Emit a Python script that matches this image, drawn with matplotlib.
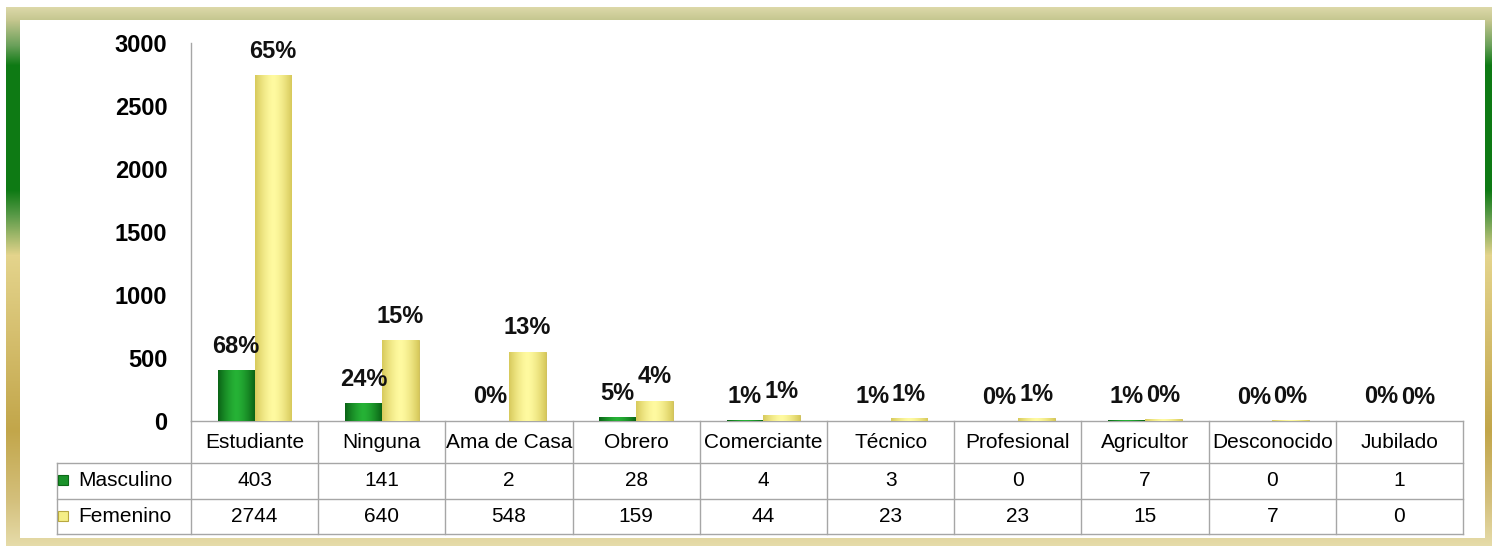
import numpy as np
import matplotlib
matplotlib.use("Agg")
import matplotlib.pyplot as plt
from matplotlib.colors import to_rgb

plt.rcParams['font.family'] = ['Liberation Sans', 'DejaVu Sans']

categories = ['Estudiante', 'Ninguna', 'Ama de Casa', 'Obrero', 'Comerciante',
              'Técnico', 'Profesional', 'Agricultor', 'Desconocido', 'Jubilado']
masculino = [403, 141, 2, 28, 4, 3, 0, 7, 0, 1]
femenino = [2744, 640, 548, 159, 44, 23, 23, 15, 7, 0]
masc_pct = ['68%', '24%', '0%', '5%', '1%', '1%', '0%', '1%', '0%', '0%']
fem_pct = ['65%', '15%', '13%', '4%', '1%', '1%', '1%', '0%', '0%', '0%']
yticks = [0, 500, 1000, 1500, 2000, 2500, 3000]
series_names = ['Masculino', 'Femenino']

W, H = 1493, 546
GREEN = '#1a922a'
YELLOW = '#f5ee86'
GRID = '#a6a6a6'


def frame_image():
    # green / gold gradient frame around a white panel
    stops = [(7, '#dcd8a8'), (20, '#c4c68e'), (45, '#6aa05a'), (65, '#0e7a14'),
             (190, '#0e7a14'), (215, '#5a9a48'), (255, '#e4d48c'), (330, '#d6c070'),
             (430, '#c2a64a'), (500, '#d4c07c'), (546, '#e6dcaa')]
    ys = np.arange(H)
    sy = [s[0] for s in stops]
    cols = np.array([to_rgb(s[1]) for s in stops])
    prof = np.stack([np.interp(ys, sy, cols[:, k]) for k in range(3)], axis=1)
    img = np.ones((H, W, 3))
    img[7:, 6:W - 1, :] = prof[7:, None, :]
    img[20:538, 20:1485, :] = 1.0
    return img


def shade_bars(ax, bars, edge, mid):
    c0, c1 = np.array(to_rgb(edge)), np.array(to_rgb(mid))
    t = 1 - np.abs(np.linspace(-1, 1, 64)) ** 1.5
    grad = (c0[None, :] * (1 - t[:, None]) + c1[None, :] * t[:, None])[None, :, :]
    for p in bars:
        h = p.get_height()
        if h <= 0:
            continue
        x0, w = p.get_x(), p.get_width()
        im = ax.imshow(grad, extent=[x0, x0 + w, 0, h], aspect='auto',
                       zorder=p.get_zorder() + 0.1, interpolation='bilinear')
        im.set_clip_path(p)


fig = plt.figure(figsize=(W / 100, H / 100), dpi=100)

bg = fig.add_axes([0, 0, 1, 1], zorder=-5)
bg.imshow(frame_image(), aspect='auto', extent=[0, W, H, 0])
bg.set_xlim(0, W)
bg.set_ylim(H, 0)
bg.axis('off')

# main chart
x0_px, x1_px, y0_px, y1_px = 191, 1463, 421, 43
ax = fig.add_axes([x0_px / W, 1 - y0_px / H, (x1_px - x0_px) / W, (y0_px - y1_px) / H])
ax.set_facecolor('none')
x = np.arange(len(categories))
bw = 0.29
b1 = ax.bar(x - bw / 2, masculino, bw, color=GREEN, edgecolor='#0d6a18', linewidth=0.6, zorder=3)
b2 = ax.bar(x + bw / 2, femenino, bw, color=YELLOW, edgecolor='#c9b84c', linewidth=0.6, zorder=3)
shade_bars(ax, b1, '#0b6416', '#26b236')
shade_bars(ax, b2, '#d8ca5c', '#fffaa0')

for bars, labels in ((b1, masc_pct), (b2, fem_pct)):
    for p, lab in zip(bars, labels):
        ax.annotate(lab, (p.get_x() + p.get_width() / 2, p.get_height()),
                    xytext=(0, 9), textcoords='offset points', ha='center', va='bottom',
                    fontsize=17, fontweight='bold', color='#111111', zorder=5)

ax.set_xlim(-0.5, len(categories) - 0.5)
ax.set_ylim(0, 3000)
ax.set_yticks(yticks)
ax.set_xticks([])
ax.tick_params(axis='y', length=0, pad=17, labelsize=17)
for lab in ax.get_yticklabels():
    lab.set_fontweight('bold')
for s in ('top', 'right'):
    ax.spines[s].set_visible(False)
for s in ('left', 'bottom'):
    ax.spines[s].set_color(GRID)
    ax.spines[s].set_linewidth(1.0)

# data table below the chart
tl_px = 57
lab_w = (x0_px - tl_px) / ((x1_px - x0_px) / len(categories))
rows = [421, 463, 499, 534]
tab = fig.add_axes([tl_px / W, 1 - rows[-1] / H, (x1_px - tl_px) / W, (rows[-1] - rows[0]) / H])
tab.set_facecolor('none')
tab.set_xlim(-0.5 - lab_w, len(categories) - 0.5)
tab.set_ylim(rows[-1], rows[0])
tab.axis('off')

lw = 1.0
xl, xr = -0.5 - lab_w, len(categories) - 0.5
for i in range(len(categories) + 1):
    tab.plot([i - 0.5, i - 0.5], [rows[0], rows[-1]], color=GRID, lw=lw, clip_on=False)
tab.plot([xl, xl], [rows[1], rows[-1]], color=GRID, lw=lw, clip_on=False)
for r in rows[1:]:
    tab.plot([xl, xr], [r, r], color=GRID, lw=lw, clip_on=False)

tsize = 15
for i, c in enumerate(categories):
    tab.text(i, (rows[0] + rows[1]) / 2, c, ha='center', va='center', fontsize=tsize)
for r, (name, vals, col, ec) in enumerate(((series_names[0], masculino, GREEN, '#0d6a18'),
                                           (series_names[1], femenino, YELLOW, '#b8a840'))):
    yc = (rows[r + 1] + rows[r + 2]) / 2
    tab.plot([xl + 0.05], [yc - 1], marker='s', markersize=7, color=col,
             markeredgecolor=ec, markeredgewidth=0.8, clip_on=False)
    tab.text(xl + 0.17, yc, name, ha='left', va='center', fontsize=tsize)
    for i, v in enumerate(vals):
        tab.text(i, yc, str(v), ha='center', va='center', fontsize=tsize)

fig.savefig('out.png', dpi=100)
